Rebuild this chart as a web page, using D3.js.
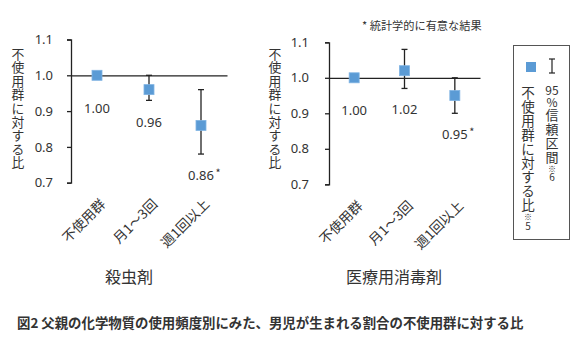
<!DOCTYPE html>
<html lang="ja">
<head>
<meta charset="UTF-8">
<script src="https://d3js.org/d3.v7.min.js"></script>
<style>
  body { margin: 0; background: #fff; }
  svg text { font-family: "Noto Sans CJK JP", "Noto Sans", sans-serif; fill: #333; }
</style>
</head>
<body>
<script>
// data
var categories = ["不使用群", "月1～3回", "週1回以上"];
var yTicks = [0.7, 0.8, 0.9, 1.0, 1.1];

var insectValues = [1.00, 0.96, 0.86];
var insectLower  = [1.00, 0.93, 0.78];
var insectUpper  = [1.00, 1.00, 0.96];
var insectSig    = [false, false, true];

var disinfValues = [1.00, 1.02, 0.95];
var disinfLower  = [1.00, 0.97, 0.90];
var disinfUpper  = [1.00, 1.08, 1.00];
var disinfSig    = [false, false, true];

var panelTitles = ["殺虫剤", "医療用消毒剤"];
var yTitle = "不使用群に対する比";
var caption = "図2 父親の化学物質の使用頻度別にみた、男児が生まれる割合の不使用群に対する比";
var sigNote = "* 統計学的に有意な結果";

var blue = "#5b9bd5";

var svg = d3.select("body").append("svg").attr("width", 580).attr("height", 351);

// vertical text, one glyph per line; tokens may carry their own size / step
function vText(x, y0, step, tokens, size) {
  var yy = y0;
  tokens.forEach(function (t) {
    if (typeof t === "string") t = { s: t };
    svg.append("text").attr("x", x).attr("y", yy)
      .attr("text-anchor", "middle").attr("dominant-baseline", "central")
      .style("font-size", (t.size || size) + "px").text(t.s);
    yy += t.step || step;
  });
}

function panel(opt) {
  var y = d3.scaleLinear().domain([0.7, 1.1]).range([opt.bottom, opt.top]);
  var x = d3.scaleBand().domain(categories).range([opt.left, opt.right]);
  var g = svg.append("g");

  // y axis
  var ya = g.append("g").attr("transform", "translate(" + opt.left + ",0)")
    .call(d3.axisLeft(y).tickValues(yTicks).tickSize(4).tickSizeOuter(4).tickPadding(opt.pad).tickFormat(d3.format(".1f")));
  ya.selectAll("path,line").attr("stroke", "#222").attr("stroke-width", 1.3);
  ya.selectAll("text").style("font-size", "13px").style("font-family", "'Noto Sans', sans-serif").attr("fill", "#333");

  // baseline at 1.0
  var xa = g.append("g").attr("transform", "translate(0," + y(1.0) + ")")
    .call(d3.axisBottom(x).tickSize(0).tickSizeOuter(0).tickFormat(""));
  xa.select("path").attr("stroke", "#222").attr("stroke-width", 1.3);

  // category labels
  var cl = g.append("g").attr("transform", "translate(0," + opt.bottom + ")")
    .call(d3.axisBottom(x).tickSize(0));
  cl.select("path").remove();
  cl.selectAll("text").attr("text-anchor", "end").attr("fill", "#222")
    .attr("transform", "translate(6,19) rotate(-45)").attr("dy", "0.35em").attr("y", 0)
    .style("font-size", "13.5px");

  var idx = d3.range(categories.length);
  var cx = function (i) { return x(categories[i]) + x.bandwidth() / 2; };

  // error bars
  var eb = g.selectAll(".eb").data(idx.filter(function (i) { return opt.lo[i] !== opt.hi[i]; }))
    .enter().append("g").attr("stroke", "#222").attr("stroke-width", 1.3);
  eb.append("line").attr("x1", cx).attr("x2", cx)
    .attr("y1", function (i) { return y(opt.lo[i]); }).attr("y2", function (i) { return y(opt.hi[i]); });
  eb.append("line").attr("x1", function (i) { return cx(i) - 3; }).attr("x2", function (i) { return cx(i) + 3; })
    .attr("y1", function (i) { return y(opt.lo[i]); }).attr("y2", function (i) { return y(opt.lo[i]); });
  eb.append("line").attr("x1", function (i) { return cx(i) - 3; }).attr("x2", function (i) { return cx(i) + 3; })
    .attr("y1", function (i) { return y(opt.hi[i]); }).attr("y2", function (i) { return y(opt.hi[i]); });

  // markers
  g.selectAll(".pt").data(idx).enter().append("rect")
    .attr("x", function (i) { return cx(i) - 5; }).attr("y", function (i) { return y(opt.v[i]) - 5; })
    .attr("width", 10).attr("height", 10).attr("fill", blue).attr("stroke", "#7fb3e3").attr("stroke-width", 0.8);

  // value labels
  idx.forEach(function (i) {
    var ly = Math.max(y(opt.lo[i]) + 21, y(opt.v[i]) + 33);
    g.append("text").attr("x", cx(i)).attr("y", ly).attr("text-anchor", "middle").attr("dy", "0.35em")
      .style("font-size", "13px").style("font-family", "'Noto Sans', sans-serif").text(opt.v[i].toFixed(2));
    if (opt.sig[i]) {
      g.append("text").attr("x", cx(i) + 17).attr("y", ly + 2).attr("text-anchor", "middle")
        .style("font-size", "11px").text("*");
    }
  });

  // panel title
  svg.append("text").attr("x", opt.titleX).attr("y", 276).attr("text-anchor", "middle")
    .attr("dominant-baseline", "central").style("font-size", "16px").text(opt.title);

  // y title
  vText(opt.yTitleX, 53, 13.6, yTitle.split(""), 12.8);
}

panel({ left: 71, right: 227, top: 39.5, bottom: 182.7, pad: 14, v: insectValues, lo: insectLower, hi: insectUpper,
        sig: insectSig, title: panelTitles[0], titleX: 129, yTitleX: 18 });
panel({ left: 329, right: 480, top: 42.3, bottom: 184.3, pad: 16, v: disinfValues, lo: disinfLower, hi: disinfUpper,
        sig: disinfSig, title: panelTitles[1], titleX: 394, yTitleX: 275 });

// significance note
svg.append("text").attr("x", 362).attr("y", 25).attr("dominant-baseline", "central")
  .style("font-size", "11.2px").text(sigNote);

// legend
svg.append("rect").attr("x", 513.5).attr("y", 45.5).attr("width", 56).attr("height", 194)
  .attr("fill", "#fff").attr("stroke", "#555").attr("stroke-width", 1);
svg.append("rect").attr("x", 526).attr("y", 62).attr("width", 10).attr("height", 10).attr("fill", blue);
var ib = svg.append("g").attr("stroke", "#222").attr("stroke-width", 1.2);
ib.append("line").attr("x1", 552).attr("x2", 552).attr("y1", 59).attr("y2", 73);
ib.append("line").attr("x1", 549).attr("x2", 555).attr("y1", 59).attr("y2", 59);
ib.append("line").attr("x1", 549).attr("x2", 555).attr("y1", 73).attr("y2", 73);
vText(552, 89, 14, [{ s: "95", size: 12, step: 12 }, { s: "%", size: 12, step: 13 }, "信", "頼", "区",
  { s: "間", step: 12 }, { s: "※", size: 8, step: 8 }, { s: "6", size: 10 }], 13);
vText(528, 92, 14, yTitle.split("").slice(0, 8).concat([{ s: "比", step: 12 }, { s: "※", size: 8, step: 9 }, { s: "5", size: 10 }]), 13.5);

// caption
svg.append("text").attr("x", 17).attr("y", 322).attr("dominant-baseline", "central")
  .style("font-size", "13.4px").style("font-weight", "bold").text(caption);
</script>
</body>
</html>
